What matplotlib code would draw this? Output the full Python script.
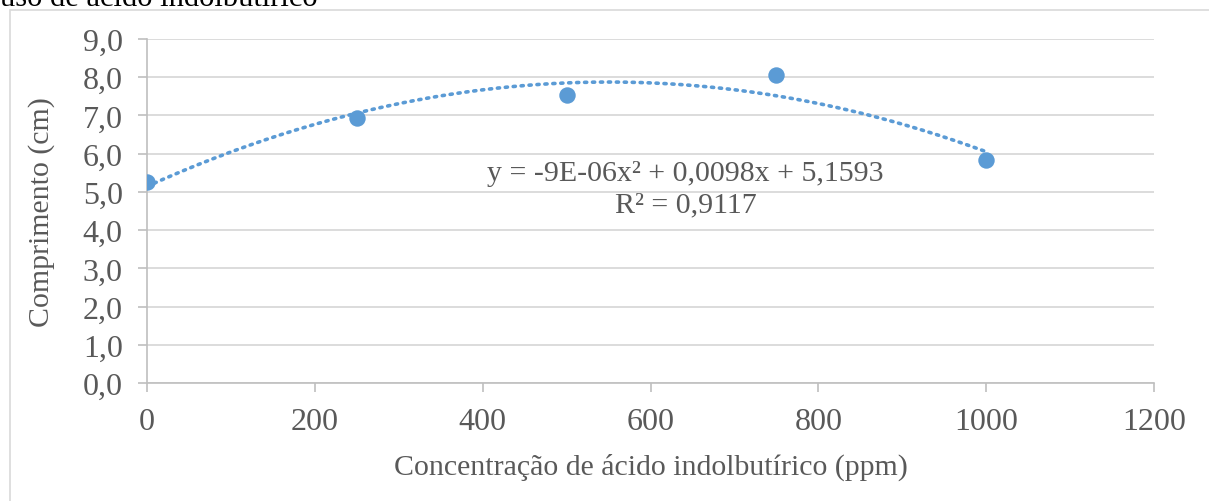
import numpy as np
import matplotlib.pyplot as plt
from matplotlib.patches import Rectangle

# data
conc = [0, 250, 500, 750, 1000]
comprimento = [5.26, 6.93, 7.54, 8.06, 5.83]
xticks = [0, 200, 400, 600, 800, 1000, 1200]
yticks = [0, 1, 2, 3, 4, 5, 6, 7, 8, 9]

plt.rcParams['font.family'] = ['Liberation Serif', 'DejaVu Serif']
grey = '#595959'
blue = '#5B9BD5'

fig = plt.figure(figsize=(12.09, 5.02), dpi=100)
ax = fig.add_axes([147/1209, 1-384/502, (1154-147)/1209, (384-40)/502])

# border of the chart box
fig.patches.append(Rectangle((10/1209, -0.05), 1.2, 1-11/502+0.05, transform=fig.transFigure,
                             fill=False, edgecolor='#d9d9d9', linewidth=1.2))
# caption, cut at the top as in the source
fig.text(0.0, 1-6/502, 'uso de ácido indolbutírico', fontsize=22, color='black',
         ha='left', va='baseline')

# polynomial trendline (order 2)
coef = np.polyfit(conc, comprimento, 2)
xs = np.linspace(0, 1000, 300)
ax.plot(xs, np.polyval(coef, xs), linestyle=(0, (0.6, 1.6)), color=blue, linewidth=2.6,
        dash_capstyle='round', zorder=2)
ax.scatter(conc, comprimento, s=140, color=blue, zorder=3, linewidths=0)

# trendline label (equation box in the source)
ax.text(0.535, 0.565, 'y = -9E-06x² + 0,0098x + 5,1593\nR² = 0,9117', transform=ax.transAxes,
        ha='center', va='center', fontsize=21.5, color=grey, linespacing=1.3)

ax.set_xlim(0, 1200)
ax.set_ylim(0, 9)
ax.set_xticks(xticks)
ax.set_yticks(yticks)
ax.set_yticklabels([('%.1f' % v).replace('.', ',') for v in yticks])
ax.tick_params(labelsize=23, colors='#bfbfbf', labelcolor=grey, length=6.5, width=1.2, pad=11)
ax.grid(axis='y', color='#d9d9d9', linewidth=1.3)
ax.set_axisbelow(True)
for s in ['top', 'right']:
    ax.spines[s].set_visible(False)
for s in ['left', 'bottom']:
    ax.spines[s].set_color('#bfbfbf')
    ax.spines[s].set_linewidth(1.2)

ax.set_xlabel('Concentração de ácido indolbutírico (ppm)', fontsize=21.5, color=grey, labelpad=12)
ax.set_ylabel('Comprimento (cm)', fontsize=21.5, color=grey, labelpad=20)

fig.savefig('out.png', dpi=100)
